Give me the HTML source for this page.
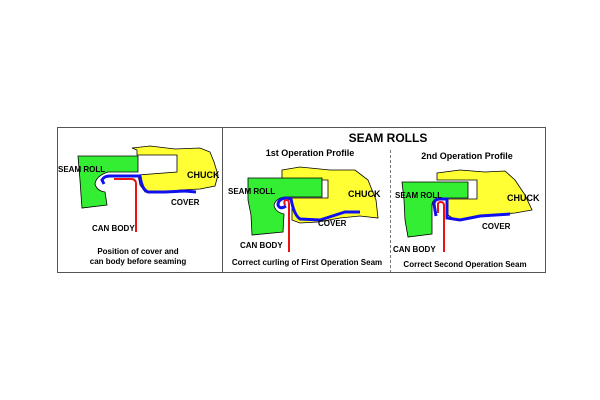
<!DOCTYPE html>
<html><head><style>body{margin:0;background:#fff}svg{display:block}text{font-family:"Liberation Sans",Arial,sans-serif;font-weight:bold;fill:#000}</style></head>
<body>
<svg width="600" height="400" viewBox="0 0 600 400">
<rect x="57.5" y="127.5" width="488" height="145" fill="#fff" stroke="#555" stroke-width="1"/>
<line x1="222.5" y1="127" x2="222.5" y2="272" stroke="#555"/>
<line x1="390.5" y1="150" x2="390.5" y2="272" stroke="#777" stroke-dasharray="3,2"/>
<text x="388" y="142" font-size="12" text-anchor="middle">SEAM ROLLS</text>
<text x="310" y="156" font-size="9" text-anchor="middle">1st Operation Profile</text>
<text x="467" y="159" font-size="9" text-anchor="middle">2nd Operation Profile</text>

<!-- Panel 1 -->
<path d="M132,148 L150,146 L175,149 L200,148 L210,152 L214,162 L218,175 L215,186 L200,189 L180,190 L160,193 L145,192 L140,185 L138,175 L177,172 L177,155 L137,155 L137,150 Z" fill="#ffff33" stroke="#000" stroke-width="0.8"/>
<path d="M78,156 L138,156 L138,172 L108,172 Q96,176 95,184 Q97,191 105,192 L107,205 L82,208 L81,195 L80,180 Z" fill="#33ee33" stroke="#000" stroke-width="0.8"/>
<path d="M104,184 L102,180 Q104,176 110,176 L140,176 Q142,190 148,192 L165,192 L185,191 L196,192" fill="none" stroke="#1010ee" stroke-width="3"/>
<path d="M114,179 L131,179 Q136,179 136,184 L136,232" fill="none" stroke="#ee1111" stroke-width="2"/>
<text x="58" y="172" font-size="8">SEAM ROLL</text>
<text x="187" y="178" font-size="9">CHUCK</text>
<text x="171" y="205" font-size="8">COVER</text>
<text x="92" y="231" font-size="8">CAN BODY</text>
<text x="138" y="254" font-size="8" text-anchor="middle">Position of cover and</text>
<text x="138" y="264" font-size="8" text-anchor="middle">can body before seaming</text>

<!-- Panel 2 -->
<path d="M282,170 L300,167 L330,170 L355,170 L368,180 L376,200 L378,218 L360,216 L340,218 L318,222 L300,223 L292,220 L292,198 L328,198 L328,180 L282,180 Z" fill="#ffff33" stroke="#000" stroke-width="0.8"/>
<path d="M248,178 L322,178 L322,197 L285,197 Q276,198 274,205 Q275,212 284,214 L283,232 L252,235 L251,215 L248,200 Z" fill="#33ee33" stroke="#000" stroke-width="0.8"/>
<path d="M286,206 Q280,210 278,205 Q278,199 286,198 L291,199 Q294,215 300,219 L320,220 L345,212 L360,212" fill="none" stroke="#1010ee" stroke-width="3"/>
<path d="M285,205 Q283,200 287,200 Q289,200 289,205 L289,252" fill="none" stroke="#ee1111" stroke-width="2"/>
<text x="228" y="194" font-size="8">SEAM ROLL</text>
<text x="348" y="197" font-size="9">CHUCK</text>
<text x="318" y="226" font-size="8">COVER</text>
<text x="240" y="248" font-size="8">CAN BODY</text>
<text x="307" y="265" font-size="8" text-anchor="middle">Correct curling of First Operation Seam</text>

<!-- Panel 3 -->
<path d="M437,173 L460,170 L485,172 L505,171 L515,180 L525,195 L532,210 L515,213 L490,215 L470,219 L455,220 L448,215 L448,199 L477,199 L477,180 L437,180 Z" fill="#ffff33" stroke="#000" stroke-width="0.8"/>
<path d="M402,182 L468,182 L468,198 L440,198 Q432,199 432,205 L432,234 L408,237 L405,220 L404,200 Z" fill="#33ee33" stroke="#000" stroke-width="0.8"/>
<path d="M436,216 L434,204 Q434,199 440,199 L447,199 L447,218 L460,220 L480,216 L510,214" fill="none" stroke="#1010ee" stroke-width="3"/>
<path d="M438,213 L438,204 Q438,202 441,202 Q444,202 444,206 L444,252" fill="none" stroke="#ee1111" stroke-width="2"/>
<text x="395" y="198" font-size="8">SEAM ROLL</text>
<text x="507" y="201" font-size="9">CHUCK</text>
<text x="482" y="229" font-size="8">COVER</text>
<text x="393" y="252" font-size="8">CAN BODY</text>
<text x="465" y="267" font-size="8" text-anchor="middle">Correct Second Operation Seam</text>
</svg>
</body></html>
